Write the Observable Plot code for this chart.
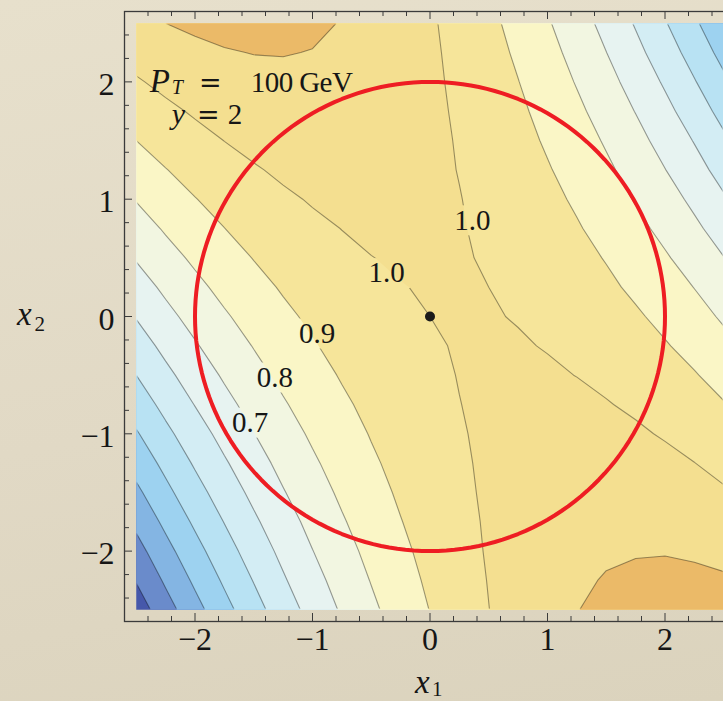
<!DOCTYPE html>
<html><head><meta charset="utf-8">
<script src="https://cdn.jsdelivr.net/npm/d3@7"></script>
<script src="https://cdn.jsdelivr.net/npm/@observablehq/plot@0.6"></script>
<style>
html,body{margin:0;padding:0;overflow:hidden;width:723px;height:701px;}
body{background:linear-gradient(170deg,#e7e0cc 0%,#e1d9c5 55%,#dbd3bd 100%);}
</style></head><body><div id="chart"></div>
<script>
// ---- data ----
const x1Grid = [-2.5,-2.25,-2,-1.75,-1.5,-1.25,-1,-0.75,-0.5,-0.25,0,0.25,0.5,0.75,1,1.25,1.5,1.75,2,2.25,2.5];
const x2Grid = [2.5,2.25,2,1.75,1.5,1.25,1,0.75,0.5,0.25,0,-0.25,-0.5,-0.75,-1,-1.25,-1.5,-1.75,-2,-2.25,-2.5];
// one row per x2 value (top row x2 = 2.5), one column per x1 value
const ratioRows = [
[1.079,1.100,1.115,1.124,1.127,1.123,1.113,1.097,1.075,1.046,1.011,0.970,0.923,0.869,0.809,0.743,0.671,0.592,0.507,0.416,0.319],
[1.035,1.061,1.081,1.095,1.102,1.103,1.098,1.086,1.068,1.044,1.014,0.978,0.935,0.886,0.831,0.769,0.701,0.627,0.547,0.461,0.368],
[0.991,1.022,1.046,1.064,1.076,1.082,1.081,1.074,1.061,1.042,1.016,0.984,0.946,0.902,0.851,0.794,0.732,0.663,0.588,0.506,0.419],
[0.946,0.981,1.010,1.033,1.049,1.060,1.064,1.061,1.053,1.038,1.017,0.990,0.956,0.917,0.871,0.819,0.761,0.697,0.627,0.551,0.468],
[0.900,0.940,0.973,1.001,1.022,1.037,1.045,1.048,1.044,1.034,1.017,0.995,0.966,0.931,0.889,0.843,0.790,0.731,0.665,0.595,0.517],
[0.853,0.897,0.935,0.967,0.993,1.013,1.026,1.033,1.034,1.028,1.016,0.998,0.974,0.944,0.907,0.865,0.817,0.763,0.702,0.636,0.564],
[0.805,0.854,0.897,0.934,0.964,0.988,1.006,1.018,1.023,1.022,1.015,1.002,0.982,0.956,0.925,0.887,0.844,0.794,0.740,0.679,0.611],
[0.756,0.810,0.857,0.899,0.934,0.962,0.985,1.001,1.011,1.015,1.012,1.004,0.989,0.967,0.941,0.908,0.869,0.825,0.775,0.719,0.657],
[0.707,0.765,0.817,0.863,0.903,0.936,0.963,0.984,0.999,1.007,1.009,1.005,0.995,0.978,0.956,0.928,0.895,0.855,0.810,0.759,0.702],
[0.656,0.719,0.776,0.827,0.871,0.909,0.941,0.966,0.985,0.998,1.005,1.006,1.000,0.988,0.971,0.947,0.918,0.883,0.844,0.798,0.745],
[0.605,0.673,0.734,0.789,0.838,0.881,0.917,0.947,0.971,0.989,1.000,1.005,1.004,0.997,0.984,0.965,0.941,0.912,0.876,0.835,0.787],
[0.553,0.625,0.691,0.751,0.804,0.852,0.893,0.927,0.956,0.978,0.994,1.004,1.007,1.005,0.997,0.982,0.963,0.938,0.907,0.871,0.827],
[0.500,0.577,0.647,0.712,0.770,0.822,0.867,0.907,0.940,0.967,0.987,1.002,1.010,1.012,1.008,0.999,0.984,0.964,0.937,0.906,0.867],
[0.446,0.528,0.603,0.672,0.735,0.791,0.841,0.885,0.923,0.955,0.980,0.999,1.012,1.018,1.019,1.014,1.004,0.988,0.967,0.939,0.905],
[0.391,0.477,0.557,0.631,0.698,0.759,0.814,0.863,0.905,0.941,0.971,0.995,1.012,1.023,1.029,1.029,1.023,1.011,0.993,0.970,0.940],
[0.336,0.426,0.511,0.589,0.661,0.727,0.786,0.840,0.887,0.927,0.962,0.990,1.012,1.028,1.038,1.042,1.041,1.033,1.020,1.001,0.975],
[0.279,0.375,0.464,0.547,0.623,0.694,0.758,0.816,0.867,0.913,0.952,0.985,1.011,1.032,1.046,1.055,1.058,1.055,1.046,1.031,1.009],
[0.222,0.322,0.416,0.503,0.584,0.659,0.728,0.791,0.847,0.897,0.941,0.978,1.009,1.034,1.053,1.067,1.074,1.076,1.071,1.060,1.043],
[0.164,0.268,0.367,0.459,0.545,0.624,0.698,0.765,0.826,0.880,0.929,0.971,1.007,1.036,1.060,1.078,1.090,1.095,1.096,1.089,1.077],
[0.105,0.214,0.317,0.414,0.504,0.589,0.667,0.738,0.804,0.863,0.916,0.963,1.003,1.038,1.066,1.088,1.105,1.115,1.120,1.118,1.110],
[0.045,0.159,0.266,0.368,0.463,0.552,0.634,0.711,0.781,0.845,0.902,0.954,0.999,1.038,1.070,1.098,1.119,1.134,1.142,1.146,1.142]
];
const levels = [0,0.1,0.2,0.3,0.4,0.5,0.6,0.7,0.8,0.9,1.0,1.1];
const levelColors = ["#4658aa","#6a8bcb","#84b5e3","#9dd2f0","#b8e2f3","#d3edf4","#e7f3f1","#f2f6e1","#faf6c6","#f6e59a","#f4df90","#ebba68"];
const majorTicks = [-2,-1,0,1,2];
const minorTicks = [-2.4,-2.2,-1.8,-1.6,-1.4,-1.2,-0.8,-0.6,-0.4,-0.2,0.2,0.4,0.6,0.8,1.2,1.4,1.6,1.8,2.2,2.4];
const circleRadius = 2;
const centerPoint = [{u: 0, v: 0}];
const labelText = ["1.0","1.0","0.9","0.8","0.7"];
const labelU = [-0.37, 0.36, -0.96, -1.32, -1.53];
const labelV = [0.37, 0.82, -0.145, -0.52, -0.905];

// ---- tables built from the arrays ----
const nx = x1Grid.length, ny = x2Grid.length;
const stepU = x1Grid[1] - x1Grid[0], stepV = x2Grid[0] - x2Grid[1];
// dense grid, first row = lowest x2 (grid samples are cell centres)
const gridValues = ratioRows.slice().reverse().flat();
const gridBounds = {
  width: nx, height: ny,
  x1: x1Grid[0] - stepU / 2, x2: x1Grid[nx - 1] + stepU / 2,
  y1: x2Grid[ny - 1] - stepV / 2, y2: x2Grid[0] + stepV / 2,
  thresholds: levels
};
const circlePts = d3.range(0, 361, 2).map(a => ({u: circleRadius * Math.cos(a * Math.PI / 180), v: circleRadius * Math.sin(a * Math.PI / 180)}));
const labels = labelText.map((t, i) => ({t, u: labelU[i], v: labelV[i]}));
const fmt = d => d < 0 ? "\u2212" + Math.abs(d) : String(d);

const W = 760, H = 701, mL = 124, mR = 25, mT = 11, mB = 80;
const plotW = W - mL - mR, plotH = H - mT - mB;
const FONT = "'Liberation Serif', 'DejaVu Serif', serif";
const EQFONT = "'DejaVu Serif', serif";

const plot = Plot.plot({
  width: W, height: H, marginLeft: mL, marginRight: mR, marginTop: mT, marginBottom: mB,
  x: {domain: [-2.6, 2.6], axis: null},
  y: {domain: [-2.6, 2.6], axis: null},
  color: {type: "ordinal", domain: levels, range: levelColors},
  style: {background: "transparent", maxWidth: "none", overflow: "visible", fontFamily: FONT},
  marks: [
    Plot.contour(gridValues, {...gridBounds, fill: Plot.identity, stroke: "none"}),
    Plot.contour(gridValues, {...gridBounds, value: Plot.identity, fill: "none", stroke: "#000", strokeOpacity: 0.38, strokeWidth: 1.1}),
    Plot.line(circlePts, {x: "u", y: "v", stroke: "#ee1d23", strokeWidth: 4}),
    Plot.dot(centerPoint, {x: "u", y: "v", r: 5, fill: "#1b1b1b"}),
    Plot.text(labels, {x: "u", y: "v", text: "t", fontSize: 29, fill: "#161616", fontFamily: FONT}),
    Plot.frame({stroke: "#3b3b3b", strokeWidth: 1.3}),
    Plot.tickX(majorTicks, {x: d => d, insetTop: plotH - 8, stroke: "#3b3b3b"}),
    Plot.tickX(minorTicks, {x: d => d, insetTop: plotH - 5, stroke: "#3b3b3b"}),
    Plot.tickX(majorTicks, {x: d => d, insetBottom: plotH - 8, stroke: "#3b3b3b"}),
    Plot.tickX(minorTicks, {x: d => d, insetBottom: plotH - 5, stroke: "#3b3b3b"}),
    Plot.tickY(majorTicks, {y: d => d, insetRight: plotW - 8, stroke: "#3b3b3b"}),
    Plot.tickY(minorTicks, {y: d => d, insetRight: plotW - 5, stroke: "#3b3b3b"}),
    Plot.tickY(majorTicks, {y: d => d, insetLeft: plotW - 8, stroke: "#3b3b3b"}),
    Plot.tickY(minorTicks, {y: d => d, insetLeft: plotW - 5, stroke: "#3b3b3b"}),
    Plot.text(majorTicks, {x: d => d, frameAnchor: "bottom", dy: 28, text: fmt, fontSize: 32, fill: "#161616", fontFamily: FONT}),
    Plot.text(majorTicks, {y: d => d, frameAnchor: "left", textAnchor: "end", dx: -10, dy: 3, text: fmt, fontSize: 32, fill: "#161616", fontFamily: FONT})
  ]
});
document.getElementById("chart").appendChild(plot);

// ---- post-processing: clip the field to its data range, break lines behind labels ----
const ns = "http://www.w3.org/2000/svg";
const sx = plot.scale("x").apply, sy = plot.scale("y").apply;
const X0 = sx(x1Grid[0]), X1 = sx(x1Grid[nx - 1]), Y0 = sy(x2Grid[0]), Y1 = sy(x2Grid[ny - 1]);
const defs = document.createElementNS(ns, "defs");
function rect(parent, x, y, w, h, fill) {
  const r = document.createElementNS(ns, "rect");
  r.setAttribute("x", x); r.setAttribute("y", y); r.setAttribute("width", w); r.setAttribute("height", h);
  if (fill) r.setAttribute("fill", fill);
  parent.appendChild(r);
}
const clip = document.createElementNS(ns, "clipPath");
clip.setAttribute("id", "fieldClip");
rect(clip, X0, Y0, X1 - X0, Y1 - Y0);
defs.appendChild(clip);
const mask = document.createElementNS(ns, "mask");
mask.setAttribute("id", "lineMask");
mask.setAttribute("maskUnits", "userSpaceOnUse");
mask.setAttribute("x", 0); mask.setAttribute("y", 0); mask.setAttribute("width", W); mask.setAttribute("height", H);
rect(mask, X0 + 1.2, Y0 + 1.2, X1 - X0 - 2.4, Y1 - Y0 - 2.4, "white");
labels.forEach(l => rect(mask, sx(l.u) - 24, sy(l.v) - 15, 48, 30, "black"));
defs.appendChild(mask);
plot.insertBefore(defs, plot.firstChild);
const contourGroups = plot.querySelectorAll('g[aria-label="contour"]');
if (contourGroups[0]) contourGroups[0].setAttribute("clip-path", "url(#fieldClip)");
if (contourGroups[1]) contourGroups[1].setAttribute("mask", "url(#lineMask)");

// ---- rich text (italic / subscripts) ----
function addText(str, x, y, size, opts = {}) {
  const t = document.createElementNS(ns, "text");
  t.setAttribute("x", x); t.setAttribute("y", y);
  t.setAttribute("font-family", opts.family || FONT); t.setAttribute("font-size", size);
  t.setAttribute("fill", "#161616");
  t.setAttribute("text-anchor", opts.anchor || "start");
  if (opts.italic) t.setAttribute("font-style", "italic");
  if (opts.length) { t.setAttribute("textLength", opts.length); t.setAttribute("lengthAdjust", "spacing"); }
  t.textContent = str;
  plot.appendChild(t);
}
const ax = sx(-2.38), ay = sy(1.91);
addText("P", ax, ay, 33, {italic: true});
addText("T", ax + 22, ay + 2, 20, {italic: true});
addText("=", ax + 60.5, ay, 27, {anchor: "middle", family: EQFONT});
addText("100 GeV", ax + 101, ay, 29, {length: 102});
const by = ay + 32;
addText("y", ax + 22, by, 30, {italic: true});
addText("=", ax + 58.5, by, 27, {anchor: "middle", family: EQFONT});
addText("2", ax + 78, by, 29);
// axis titles
addText("x", sx(0) - 14.5, 693, 33, {italic: true});
addText("1", sx(0) + 2.5, 696, 21);
addText("x", 17, 325, 33, {italic: true});
addText("2", 34.5, 331, 21);
</script></body></html>
